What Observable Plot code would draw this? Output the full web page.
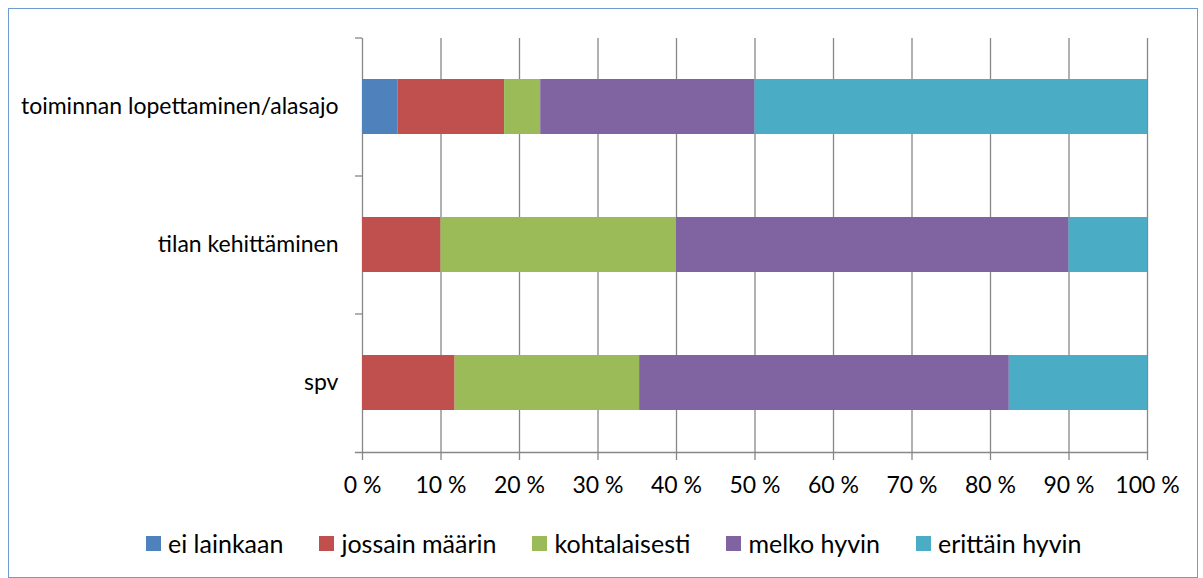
<!DOCTYPE html>
<html>
<head>
<meta charset="utf-8">
<script src="https://cdn.jsdelivr.net/npm/d3@7"></script>
<script src="https://cdn.jsdelivr.net/npm/@observablehq/plot@0.6"></script>
<style>
  html, body { margin: 0; padding: 0; background: #fff; }
  body { width: 1203px; height: 578px; position: relative; overflow: hidden; font-family: "Lato", sans-serif; }
  #frame { position: absolute; left: 8px; top: 8px; width: 1190px; height: 570px; border: 1px solid #6f9bd3; box-sizing: border-box; }
  #chart { position: absolute; left: 0; top: 0; }
  #legend { position: absolute; left: 146px; top: 528px; display: flex; font-size: 25px; line-height: 31px; color: #000; }
  .item { display: flex; align-items: center; margin-right: 36px; }
  .item:last-child { margin-right: 0; }
  .sw { width: 15px; height: 15px; margin-right: 7px; }
</style>
</head>
<body>
<div id="frame"></div>
<div id="chart"></div>
<div id="legend"></div>
<script>
const categories = ["toiminnan lopettaminen/alasajo", "tilan kehittäminen", "spv"];
const seriesNames = ["ei lainkaan", "jossain määrin", "kohtalaisesti", "melko hyvin", "erittäin hyvin"];
const seriesColors = ["#4F81BD", "#C0504D", "#9BBB59", "#8064A2", "#4BACC6"];
const eiLainkaan = [4.5, 0, 0];
const jossainMaarin = [13.6, 10, 11.8];
const kohtalaisesti = [4.6, 30, 23.5];
const melkoHyvin = [27.3, 50, 47.1];
const erittainHyvin = [50, 10, 17.6];
const xTicks = [0, 10, 20, 30, 40, 50, 60, 70, 80, 90, 100];

const seriesValues = [eiLainkaan, jossainMaarin, kohtalaisesti, melkoHyvin, erittainHyvin];
const rows = [];
seriesNames.forEach((s, i) => categories.forEach((c, j) => rows.push({category: c, series: s, value: seriesValues[i][j]})));

const axisColor = "#878787";
const chart = Plot.plot({
  width: 1203,
  height: 505,
  marginLeft: 362,
  marginRight: 56,
  marginTop: 38,
  marginBottom: 53,
  style: {fontFamily: "Lato, sans-serif", fontSize: "23px", color: "#000", background: "transparent"},
  x: {domain: [0, 100], ticks: xTicks},
  y: {domain: categories, paddingInner: 0.6, paddingOuter: 0.3, label: null},
  color: {domain: seriesNames, range: seriesColors},
  marks: [
    Plot.ruleX(xTicks, {stroke: axisColor, strokeWidth: 1.3}),
    Plot.frame({anchor: "bottom", stroke: axisColor, strokeWidth: 1.3, insetLeft: -7}),
    Plot.barX(rows, {x: "value", y: "category", fill: "series", order: seriesNames}),
    Plot.axisX({ticks: xTicks, tickSize: 8, tickPadding: 16, stroke: axisColor, strokeWidth: 1.3, tickFormat: d => d + " %", label: null, fill: "#000"}),
    Plot.axisY({ticks: categories, tickSize: 7, text: null, dy: -69, stroke: axisColor, strokeWidth: 1.3, label: null}),
    Plot.axisY({ticks: categories, tickSize: 0, tickPadding: 24, label: null, fill: "#000"})
  ]
});
document.getElementById("chart").appendChild(chart);

const legend = document.getElementById("legend");
seriesNames.forEach((s, i) => {
  const it = document.createElement("div");
  it.className = "item";
  const sw = document.createElement("div");
  sw.className = "sw";
  sw.style.background = seriesColors[i];
  const t = document.createElement("span");
  t.textContent = s;
  it.appendChild(sw); it.appendChild(t);
  legend.appendChild(it);
});
</script>
</body>
</html>
